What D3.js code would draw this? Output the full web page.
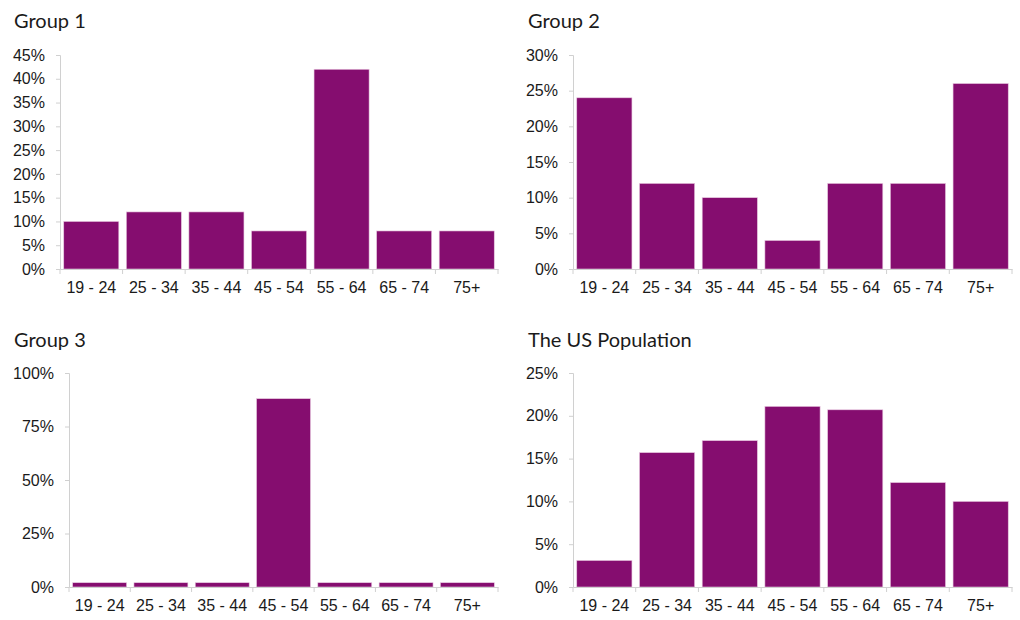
<!DOCTYPE html>
<html><head><meta charset="utf-8">
<script src="https://cdn.jsdelivr.net/npm/d3@7"></script>
<style>
body{margin:0;background:#fff;}
svg{display:block;}
.tick text{font-family:"Liberation Sans", Arial, sans-serif !important;}
</style></head>
<body>
<svg id="chart" width="1020" height="620"></svg>
<script>
const categories = ["19 - 24","25 - 34","35 - 44","45 - 54","55 - 64","65 - 74","75+"];
const titles = ["Group 1","Group 2","Group 3","The US Population"];
const group1 = [10, 12, 12, 8, 42, 8, 8];
const group2 = [24, 12, 10, 4, 12, 12, 26];
const group3 = [2, 2, 2, 88, 2, 2, 2];
const usPopulation = [3.1, 15.7, 17.1, 21.1, 20.7, 12.2, 10.0];
const yMaxes = [45, 30, 100, 25];
const yTickValues = [
  [0,5,10,15,20,25,30,35,40,45],
  [0,5,10,15,20,25,30],
  [0,25,50,75,100],
  [0,5,10,15,20,25]
];

const series = [group1, group2, group3, usPopulation];
const panels = [
  {x0:60, x1:498, top:55, bottom:269, tx:14, ty:28},
  {x0:573, x1:1012, top:55, bottom:269, tx:528, ty:28},
  {x0:69, x1:498, top:373, bottom:587, tx:14, ty:347},
  {x0:573, x1:1012, top:373, bottom:587, tx:528, ty:347}
];
const barColor = "#850d6f";
const axisColor = "#d0d0d0";

const svg = d3.select("#chart");

panels.forEach((p, i) => {
  const g = svg.append("g");
  const x = d3.scaleBand().domain(categories).range([p.x0, p.x1]).paddingInner(0.12).paddingOuter(0.06);
  const y = d3.scaleLinear().domain([0, yMaxes[i]]).range([p.bottom, p.top]);

  g.append("text").attr("x", p.tx).attr("y", p.ty)
    .style("font-family", "Lato, 'Open Sans', sans-serif").style("font-size", "20px")
    .attr("fill", "#1a1a1a").text(titles[i]);

  g.selectAll("rect").data(series[i]).enter().append("rect")
    .attr("x", (d, j) => x(categories[j]))
    .attr("width", x.bandwidth())
    .attr("y", d => y(d))
    .attr("height", d => p.bottom - y(d))
    .attr("fill", barColor)
    .attr("stroke", "#e8c8e0").attr("stroke-width", 0.6);

  const yAxis = d3.axisLeft(y).tickValues(yTickValues[i]).tickSize(4).tickPadding(11)
    .tickFormat(d => d + "%");
  const ya = g.append("g").attr("transform", `translate(${p.x0},0)`).call(yAxis);
  ya.attr("font-family", null).attr("font-size", null);
  ya.select(".domain").attr("stroke", axisColor);
  ya.selectAll(".tick line").attr("stroke", axisColor);
  ya.selectAll(".tick text").style("font-size", "16px").attr("fill", "#1a1a1a");

  const xAxis = d3.axisBottom(x).tickSize(0).tickPadding(13);
  const xa = g.append("g").attr("transform", `translate(0,${p.bottom})`).call(xAxis);
  xa.attr("font-family", null).attr("font-size", null);
  xa.select(".domain").attr("stroke", axisColor);
  xa.selectAll(".tick text").style("font-size", "16px").attr("fill", "#1a1a1a");

  const step = (p.x1 - p.x0) / categories.length;
  g.selectAll("line.bt").data(d3.range(categories.length + 1)).enter().append("line")
    .attr("class", "bt")
    .attr("x1", k => p.x0 + k * step).attr("x2", k => p.x0 + k * step)
    .attr("y1", p.bottom).attr("y2", p.bottom + 5)
    .attr("stroke", axisColor);
});
</script>
</body></html>
